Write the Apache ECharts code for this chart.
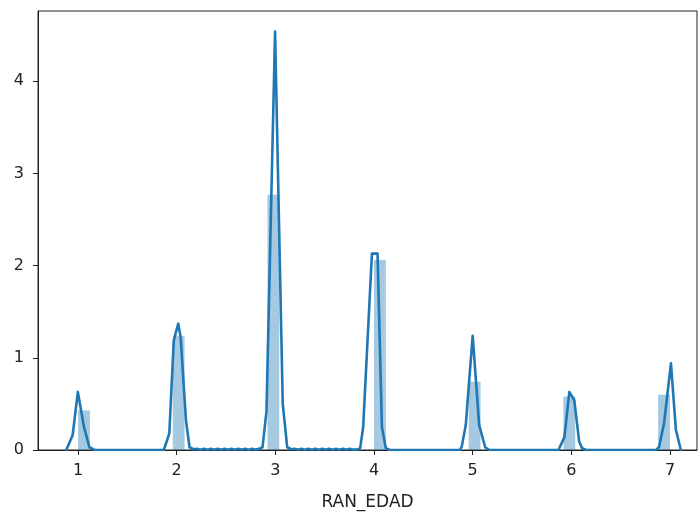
<!DOCTYPE html>
<html><head><meta charset="utf-8">
<script src="https://cdn.jsdelivr.net/npm/echarts@6/dist/echarts.min.js"></script>
<style>html,body{margin:0;padding:0;background:#fff}#c{width:699px;height:517px}</style>
</head><body><div id="c"></div>
<script>
const xTicks = [1, 2, 3, 4, 5, 6, 7];
const yTicks = [0, 1, 2, 3, 4];
const xName = 'RAN_EDAD';
// histogram bins (density)
const binLeft = [1.00, 1.96, 2.92, 4.00, 4.96, 5.92, 6.88];
const binRight = [1.12, 2.08, 3.04, 4.12, 5.08, 6.04, 7.00];
const binDensity = [0.43, 1.24, 2.77, 2.06, 0.74, 0.58, 0.60];
// KDE curve
const kdeX = [0.88, 0.945, 0.998, 1.06, 1.115, 1.17, 1.5,
  1.87, 1.925, 1.97, 1.99, 2.016, 2.04, 2.094, 2.13,
  2.17, 2.205, 2.24, 2.275, 2.31, 2.345, 2.38, 2.415, 2.45, 2.485, 2.52, 2.555, 2.59, 2.625, 2.66, 2.695, 2.73, 2.765, 2.80, 2.835,
  2.87, 2.91, 2.997, 3.075, 3.12,
  3.16, 3.195, 3.23, 3.265, 3.30, 3.335, 3.37, 3.405, 3.44, 3.475, 3.51, 3.545, 3.58, 3.615, 3.65, 3.685, 3.72, 3.755, 3.79, 3.83,
  3.86, 3.89, 3.979, 4.036, 4.08, 4.12, 4.16, 4.5,
  4.87, 4.89, 4.93, 5.0, 5.066, 5.127, 5.17, 5.5,
  5.87, 5.89, 5.93, 5.98, 6.03, 6.08, 6.11, 6.15, 6.5,
  6.86, 6.89, 6.94, 7.01, 7.06, 7.11];
const kdeY = [0.0, 0.16, 0.63, 0.25, 0.03, 0.0, 0.0,
  0.0, 0.18, 1.18, 1.27, 1.37, 1.22, 0.32, 0.03,
  0.008, 0.014, 0.004, 0.014, 0.004, 0.014, 0.004, 0.014, 0.004, 0.014, 0.004, 0.014, 0.004, 0.014, 0.004, 0.014, 0.004, 0.014, 0.004, 0.012,
  0.03, 0.42, 4.54, 0.5, 0.03,
  0.008, 0.014, 0.004, 0.014, 0.004, 0.014, 0.004, 0.014, 0.004, 0.014, 0.004, 0.014, 0.004, 0.014, 0.004, 0.014, 0.004, 0.014, 0.004, 0.006,
  0.02, 0.25, 2.13, 2.13, 0.25, 0.02, 0.0, 0.0,
  0.0, 0.04, 0.27, 1.24, 0.27, 0.03, 0.0, 0.0,
  0.0, 0.02, 0.14, 0.63, 0.54, 0.09, 0.02, 0.0, 0.0,
  0.0, 0.035, 0.29, 0.94, 0.22, 0.0];

const lineColor = '#1f77b4';
const barColor = 'rgba(31,119,180,0.4)';
const font = 'DejaVu Sans';

const chart = echarts.init(document.getElementById('c'), null, {renderer: 'canvas'});
chart.setOption({
  animation: false,
  grid: {left: 38, right: 2, top: 11, bottom: 67, show: true, borderColor: '#222', borderWidth: 1, backgroundColor: 'transparent'},
  xAxis: {
    type: 'value', min: 0.594, max: 7.274,
    name: xName, nameLocation: 'middle', nameGap: 44,
    nameTextStyle: {fontFamily: font, fontSize: 17, color: '#222'},
    axisLine: {show: true, lineStyle: {color: '#222', width: 1}},
    axisTick: {show: true, customValues: xTicks, length: 5, lineStyle: {color: '#222'}},
    axisLabel: {customValues: xTicks, fontFamily: font, fontSize: 16, color: '#222', margin: 13},
    splitLine: {show: false}
  },
  yAxis: {
    type: 'value', min: 0, max: 4.762,
    axisLine: {show: true, lineStyle: {color: '#222', width: 1}},
    axisTick: {show: true, customValues: yTicks, length: 5, lineStyle: {color: '#222'}},
    axisLabel: {customValues: yTicks, fontFamily: font, fontSize: 16, color: '#222', margin: 14},
    splitLine: {show: false}
  },
  series: [
    {
      type: 'custom', z: 2,
      data: binLeft.map((l, i) => [l, binRight[i], binDensity[i]]),
      encode: {x: [0, 1], y: 2},
      renderItem: function (params, api) {
        const p0 = api.coord([api.value(0), 0]);
        const p1 = api.coord([api.value(1), api.value(2)]);
        return {type: 'rect', shape: {x: p0[0], y: p1[1], width: p1[0] - p0[0], height: p0[1] - p1[1]},
          style: {fill: barColor}};
      }
    },
    {
      type: 'line', z: 3, showSymbol: false, symbol: 'none',
      data: kdeX.map((x, i) => [x, kdeY[i]]),
      lineStyle: {color: lineColor, width: 2.6, join: 'round', cap: 'round'}
    }
  ]
});
</script></body></html>
